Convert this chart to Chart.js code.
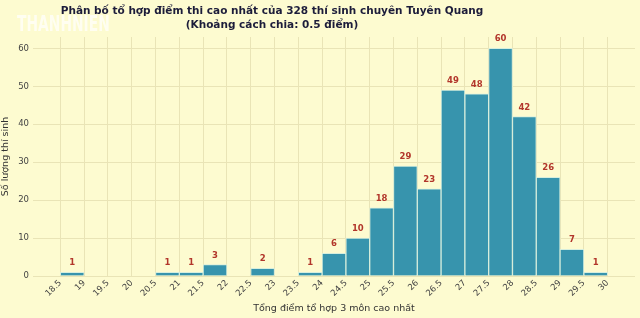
<!DOCTYPE html>
<html lang="vi">
<head>
<meta charset="UTF-8">
<title>Phân bố tổ hợp điểm thi</title>
<script src="https://cdn.jsdelivr.net/npm/chart.js"></script>
<style>
    body { margin: 0; background: #fdfbd0; }
    .wrap { position: relative; width: 640px; height: 318px; }
    .title {
        position: absolute; left: 0; top: 3px; width: 544px;
        text-align: center; font-family: "DejaVu Sans", sans-serif;
        font-weight: bold; font-size: 10.5px; line-height: 14px; color: #1c1c3a;
    }
    .logo {
        position: absolute; left: 17px; top: 11px;
        font-family: "DejaVu Sans", sans-serif; transform: scaleX(0.63); transform-origin: left top;
        font-weight: bold; font-size: 22px; letter-spacing: 0; color: rgba(255,255,255,0.7);
    }
</style>
</head>
<body>
<div class="wrap">
    <div class="logo">THANHNIEN</div>
    <div class="title">Phân bố tổ hợp điểm thi cao nhất của 328 thí sinh chuyên Tuyên Quang<br>(Khoảng cách chia: 0.5 điểm)</div>
    <canvas id="grafico" width="640" height="318"></canvas>
</div>

<script>
    // bin start (0.5 wide) and number of students
    const binStart = [18.5, 19, 19.5, 20, 20.5, 21, 21.5, 22, 22.5, 23, 23.5, 24, 24.5, 25, 25.5, 26, 26.5, 27, 27.5, 28, 28.5, 29, 29.5];
    const soLuong = [1, 0, 0, 0, 1, 1, 3, 0, 2, 0, 1, 6, 10, 18, 29, 23, 49, 48, 60, 42, 26, 7, 1];
    const xTicks = [18.5, 19, 19.5, 20, 20.5, 21, 21.5, 22, 22.5, 23, 23.5, 24, 24.5, 25, 25.5, 26, 26.5, 27, 27.5, 28, 28.5, 29, 29.5, 30];
    const yTicks = [0, 10, 20, 30, 40, 50, 60];

    const pontos = binStart.map((b, i) => ({ x: b + 0.25, y: soLuong[i] > 0 ? soLuong[i] : null }));

    const rotulos = {
        id: 'rotulos',
        afterDatasetsDraw(chart) {
            const ctx = chart.ctx;
            const meta = chart.getDatasetMeta(0);
            ctx.save();
            ctx.font = 'bold 8.5px "DejaVu Sans"';
            ctx.fillStyle = '#b2362b';
            ctx.textAlign = 'center';
            ctx.textBaseline = 'bottom';
            meta.data.forEach((bar, i) => {
                if (soLuong[i] > 0) ctx.fillText(soLuong[i], bar.x, bar.y - 5);
            });
            ctx.restore();
        }
    };

    const ctx = document.getElementById('grafico').getContext('2d');
    new Chart(ctx, {
        type: 'bar',
        data: {
            datasets: [{
                data: pontos,
                backgroundColor: '#3794ad',
                borderColor: '#d6eedd',
                borderWidth: 1,
                barPercentage: 1,
                categoryPercentage: 1
            }]
        },
        options: {
            responsive: false,
            animation: false,
            layout: { padding: { top: 37, right: 5, left: 0, bottom: 0 } },
            plugins: { legend: { display: false }, tooltip: { enabled: false } },
            scales: {
                x: {
                    type: 'linear',
                    offset: false,
                    min: 17.925,
                    max: 30.575,
                    afterBuildTicks: s => { s.ticks = xTicks.map(v => ({ value: v })); },
                    afterFit: s => { s.height = 42; },
                    ticks: {
                        autoSkip: false,
                        maxRotation: 45,
                        minRotation: 45,
                        padding: 2,
                        color: '#444',
                        font: { family: 'DejaVu Sans', size: 8.5 },
                        callback: v => String(v)
                    },
                    grid: { offset: false, color: '#e9e4b6', drawTicks: false, lineWidth: 1 },
                    border: { display: false },
                    title: {
                        display: true,
                        text: 'Tổng điểm tổ hợp 3 môn cao nhất',
                        color: '#333',
                        font: { family: 'DejaVu Sans', size: 9.5 },
                        padding: { top: 0, bottom: 4 }
                    }
                },
                y: {
                    min: 0,
                    max: 63,
                    afterBuildTicks: s => { s.ticks = yTicks.map(v => ({ value: v })); },
                    afterFit: s => { s.width = 33; },
                    ticks: {
                        padding: 4,
                        color: '#444',
                        font: { family: 'DejaVu Sans', size: 8.5 }
                    },
                    grid: { color: '#e9e4b6', drawTicks: false, lineWidth: 1 },
                    border: { display: false },
                    title: {
                        display: true,
                        text: 'Số lượng thí sinh',
                        color: '#333',
                        font: { family: 'DejaVu Sans', size: 9.5 },
                        padding: { top: 0, bottom: 0 }
                    }
                }
            }
        },
        plugins: [rotulos]
    });
</script>
</body>
</html>
